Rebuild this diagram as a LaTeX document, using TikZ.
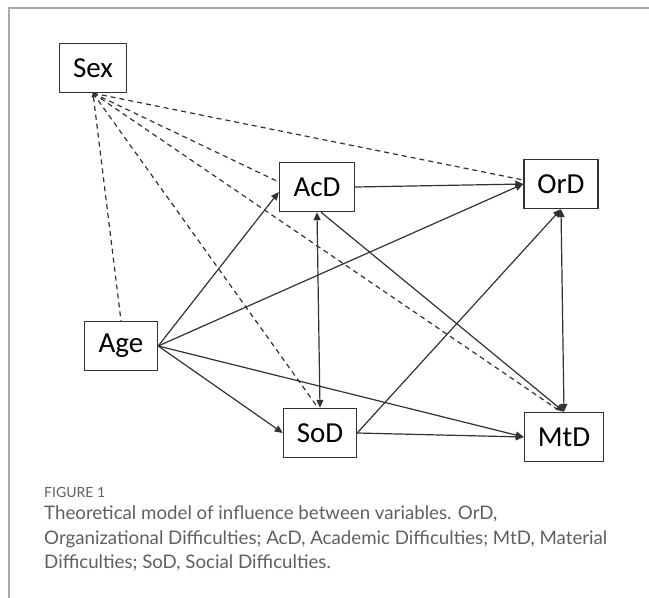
\documentclass[tikz,border=0pt]{standalone}
\usepackage{fontspec}
\setmainfont{Lato}
\newfontfamily\boxfont{Carlito}
\definecolor{framegray}{RGB}{170, 170, 170}
\definecolor{captiongray}{RGB}{95, 95, 95}
\definecolor{linegray}{RGB}{50, 50, 50}
\usetikzlibrary{
  arrows.meta,
  positioning,
}
\tikzset{
  >={Triangle[length=8pt,width=7pt]},
  varbox/.style={draw=linegray,line width=1.4pt,rectangle,minimum height=49,inner sep=0pt,font=\boxfont\fontsize{29}{32}\selectfont},
  solidedge/.style={draw=linegray,line width=1.2pt},
  sexedge/.style={draw=linegray,line width=1.2pt,dash pattern=on 5pt off 4pt},
}

\begin{document}
\begin{tikzpicture}[x=1pt,y=-1pt]
        \useasboundingbox (0,0) rectangle (649,598);
        \draw[framegray,line width=1.5pt] (9,598) -- (9,8) -- (649,8);

        \node[varbox,minimum width=67]    (sex) at (93,68)      {Sex};
        \node[varbox,minimum width=75]    (acd) at (317,187)    {AcD};
        \node[varbox,minimum width=74]    (ord) at (561,184)    {OrD};
        \node[varbox,minimum width=73]    (age) at (121,346)    {Age};
        \node[varbox,minimum width=73]    (sod) at (320,433)    {SoD};
        \node[varbox,minimum width=79]    (mtd) at (564,437)    {MtD};

        \draw[sexedge,{Triangle[length=4pt,width=4pt]}-] (sex.south) -- (age.north);
        \draw[sexedge] (sex.south) -- ([yshift=5]acd.west);
        \draw[sexedge] (sex.south) -- ([yshift=4]ord.west);
        \draw[sexedge] (sex.south) -- ([xshift=-2]sod.north);
        \draw[sexedge] (sex.south) -- ([xshift=-3]mtd.north);

        \draw[solidedge,->] (age.east) -- ([yshift=-5]acd.west);
        \draw[solidedge,->] (age.east) -- (ord.west);
        \draw[solidedge,->] (age.east) -- (sod.west);
        \draw[solidedge,->] (age.east) -- (mtd.west);
        \draw[solidedge,->] (acd.east) -- (ord.west);
        \draw[solidedge,<->] (acd.south) -- (sod.north);
        \draw[solidedge,->] ([xshift=4]acd.south) -- (mtd.north);
        \draw[solidedge,->] (sod.east) -- (ord.south);
        \draw[solidedge,->] (sod.east) -- (mtd.west);
        \draw[solidedge,<->] (ord.south) -- (mtd.north);

        \node[anchor=base west,inner sep=0pt,text=captiongray,font=\fontsize{14}{16}\selectfont]    (fig) at (44,497)    {FIGURE 1};
        \node[anchor=north west,align=left,inner sep=0pt,text=captiongray,font=\fontsize{18.7}{24.5}\selectfont]    (cap) at (44,506)
          {Theoretical model of influence between variables. OrD,\\
           Organizational Difficulties; AcD, Academic Difficulties; MtD, Material\\
           Difficulties; SoD, Social Difficulties.};
    \end{tikzpicture}
\end{document}
